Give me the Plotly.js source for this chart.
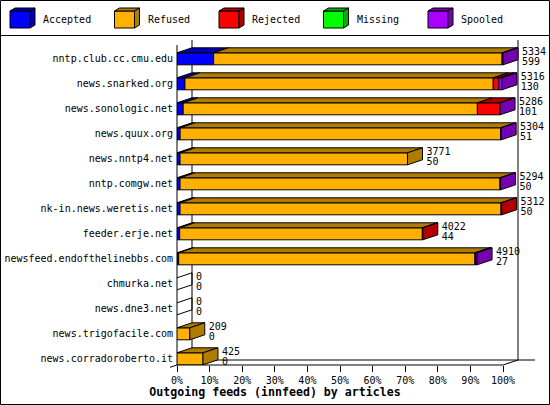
<!DOCTYPE html>
<html>
<head>
<meta charset="utf-8">
<script src="https://cdn.plot.ly/plotly-3.0.1.min.js"></script>
<style>
body { margin: 0; background: #fff; }
#chart { width: 550px; height: 405px; }
</style>
</head>
<body>
<div id="chart"></div>
<script>
var feeds = ['nntp.club.cc.cmu.edu', 'news.snarked.org', 'news.sonologic.net', 'news.quux.org',
    'news.nntp4.net', 'nntp.comgw.net', 'nk-in.news.weretis.net', 'feeder.erje.net',
    'newsfeed.endofthelinebbs.com', 'chmurka.net', 'news.dne3.net', 'news.trigofacile.com',
    'news.corradoroberto.it'];
var offered  = [5334, 5316, 5286, 5304, 3771, 5294, 5312, 4022, 4910, 0, 0, 209, 425];
var accepted = [599, 130, 101, 51, 50, 50, 50, 44, 27, 0, 0, 0, 0];
var refused  = [4720, 5044, 4814, 5243, 3721, 5234, 5252, 3970, 4848, 0, 0, 209, 425];
var rejected = [0, 92, 366, 0, 0, 0, 10, 8, 10, 0, 0, 0, 0];
var missing  = [0, 0, 0, 0, 0, 0, 0, 0, 0, 0, 0, 0, 0];
var spooled  = [15, 50, 5, 10, 0, 10, 0, 0, 25, 0, 0, 0, 0];
var xTicks = [0, 10, 20, 30, 40, 50, 60, 70, 80, 90, 100];

var segNames = ['Accepted', 'Refused', 'Rejected', 'Missing', 'Spooled'];
var segFront = ['#0000ff', '#ffb000', '#ff0000', '#00ff00', '#aa00ff'];
var segDark  = ['#0000b0', '#b07c00', '#b00000', '#00b000', '#7400b0'];

var mono = 'DejaVu Sans Mono, Liberation Mono, monospace';
// plot area in pixels
var L = 177, T = 36, W = 363, H = 329;
function px(x) { return (x - L) / W; }
function py(y) { return (T + H - y) / H; }

var dx = 4.6, dy = 0.2, hh = 0.24;   // depth in % and rows, half bar height
var scale = 100 / Math.max.apply(null, offered);
var series = [accepted, refused, rejected, missing, spooled];

function blank() { return {x: [], y: []}; }
var fronts = segNames.map(blank), tops = segNames.map(blank), sides = segNames.map(blank);
var empty = blank();
var ends = [];

function poly(p, pts) {
    pts.forEach(function (q) { p.x.push(q[0]); p.y.push(q[1]); });
    p.x.push(null); p.y.push(null);
}

for (var r = 0; r < feeds.length; r++) {
    var x0 = 0, last = -1, yt = r - hh, yb = r + hh;
    for (var s = 0; s < series.length; s++) {
        var v = series[s][r] * scale;
        if (v <= 0) continue;
        var x1 = x0 + v;
        poly(fronts[s], [[x0, yt], [x1, yt], [x1, yb], [x0, yb], [x0, yt]]);
        poly(tops[s], [[x0, yt], [x1, yt], [x1 + dx, yt - dy], [x0 + dx, yt - dy], [x0, yt]]);
        x0 = x1;
        last = s;
    }
    if (last >= 0) poly(sides[last], [[x0, yt], [x0 + dx, yt - dy], [x0 + dx, yb - dy], [x0, yb], [x0, yt]]);
    else poly(empty, [[0, yt], [dx, yt - dy], [dx, yb - dy], [0, yb]]);
    ends.push(x0 + dx + 1.2);
}

var data = [];
for (var s = 0; s < segNames.length; s++) {
    [[fronts[s], segFront[s]], [tops[s], segDark[s]], [sides[s], segDark[s]]].forEach(function (f) {
        data.push({
            x: f[0].x, y: f[0].y, type: 'scatter', mode: 'lines',
            fill: 'toself', fillcolor: f[1],
            line: {color: '#000', width: 1},
            hoverinfo: 'skip', showlegend: false
        });
    });
}
data.push({x: empty.x, y: empty.y, type: 'scatter', mode: 'lines',
    line: {color: '#000', width: 1}, hoverinfo: 'skip', showlegend: false});

var rows = feeds.map(function (f, i) { return i; });
data.push({
    x: ends, y: rows.map(function (i) { return i - 0.27; }),
    text: offered.map(String), type: 'scatter', mode: 'text', textposition: 'middle right',
    textfont: {family: mono, size: 10, color: '#000'}, cliponaxis: false,
    hoverinfo: 'skip', showlegend: false
});
data.push({
    x: ends, y: rows.map(function (i) { return i + 0.16; }),
    text: accepted.map(String), type: 'scatter', mode: 'text', textposition: 'middle right',
    textfont: {family: mono, size: 10, color: '#000'}, cliponaxis: false,
    hoverinfo: 'skip', showlegend: false
});

function line(x0, y0, x1, y1) {
    return {type: 'line', xref: 'paper', yref: 'paper',
        x0: px(x0), y0: py(y0), x1: px(x1), y1: py(y1),
        line: {color: '#000', width: 1}, layer: 'below'};
}

var shapes = [
    {type: 'rect', xref: 'paper', yref: 'paper', x0: px(0.5), y0: py(0.5), x1: px(549.5), y1: py(404.5),
        line: {color: '#000', width: 1}},
    line(0, 35.5, 550, 35.5),
    line(177, 45, 177, 365),
    line(192, 40, 192, 360),
    line(518, 40, 518, 360),
    line(192, 360, 535, 360),
    line(177, 365, 503, 365),
    line(192, 360, 170, 367.3),
    line(518, 360, 503, 365)
];

var annotations = [];
segNames.forEach(function (n, i) {
    var lx = 10 + 104.5 * i;
    shapes.push({type: 'rect', xref: 'paper', yref: 'paper',
        x0: px(lx), y0: py(28), x1: px(lx + 20), y1: py(11),
        fillcolor: segFront[i], line: {color: '#000', width: 1}});
    shapes.push({type: 'path', xref: 'paper', yref: 'paper',
        path: 'M' + px(lx) + ',' + py(11) + 'L' + px(lx + 5) + ',' + py(8) + 'L' + px(lx + 25) + ',' + py(8) +
            'L' + px(lx + 20) + ',' + py(11) + 'Z',
        fillcolor: segDark[i], line: {color: '#000', width: 1}});
    shapes.push({type: 'path', xref: 'paper', yref: 'paper',
        path: 'M' + px(lx + 20) + ',' + py(11) + 'L' + px(lx + 25) + ',' + py(8) + 'L' + px(lx + 25) + ',' + py(25) +
            'L' + px(lx + 20) + ',' + py(28) + 'Z',
        fillcolor: segDark[i], line: {color: '#000', width: 1}});
    annotations.push({xref: 'paper', yref: 'paper', x: px(lx + 31), y: py(20),
        xanchor: 'left', yanchor: 'middle', showarrow: false, text: n,
        font: {family: mono, size: 10, color: '#000'}});
});

var layout = {
    width: 550, height: 405,
    margin: {l: L, r: 550 - L - W, t: T, b: 405 - T - H},
    paper_bgcolor: '#fff', plot_bgcolor: '#fff',
    showlegend: false,
    title: {text: '<b>Outgoing feeds (innfeed) by articles</b>',
        font: {family: mono, size: 11.6, color: '#000'},
        x: 0.5, xref: 'container', xanchor: 'center',
        y: 1 - 392 / 405, yref: 'container', yanchor: 'middle'},
    xaxis: {range: [0, W / 3.26], tickvals: xTicks, ticktext: xTicks.map(function (t) { return t + '%'; }),
        ticks: 'outside', ticklen: 6, tickcolor: '#000', tickwidth: 1,
        showgrid: false, zeroline: false, showline: false,
        tickfont: {family: mono, size: 10, color: '#000'}, fixedrange: true},
    yaxis: {range: [12 + (365 - 358.8) / 25, -(58.8 - 36) / 25], tickvals: rows, ticktext: feeds,
        ticks: '', showgrid: false, zeroline: false, showline: false, ticklabelstandoff: 3,
        tickfont: {family: mono, size: 10, color: '#000'}, fixedrange: true},
    shapes: shapes,
    annotations: annotations
};

Plotly.newPlot('chart', data, layout, {displayModeBar: false, staticPlot: true});
</script>
</body>
</html>
